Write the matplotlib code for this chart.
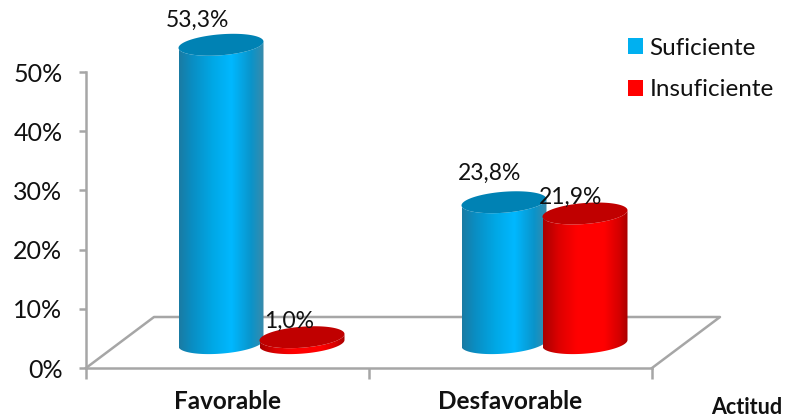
#!/usr/bin/env python3
"""Fake-3D cylinder chart: Actitud by Suficiente / Insuficiente."""
import matplotlib
matplotlib.use("Agg")
import matplotlib.pyplot as plt
import numpy as np
from matplotlib.colors import LinearSegmentedColormap
from matplotlib.patches import PathPatch, Patch, Polygon
from matplotlib.path import Path

categories = ["Favorable", "Desfavorable"]
series_names = ["Suficiente", "Insuficiente"]
suficiente = [53.3, 23.8]
insuficiente = [1.0, 21.9]
# the tall bar is cut short in the picture: it reaches about 50.4 on the axis
suficiente_drawn = [50.4, 23.8]
y_ticks = [0, 10, 20, 30, 40, 50]

PX_X = 283.0     # px per category
PX_Y = 5.92      # px per percent
X0, Y0 = 86, 368
GREY = "#A6A6A6"
FONT = "Lato"

plt.rcParams["font.family"] = FONT


def cylinder(ax, cx, h, cmap, top_color, base=4.2):
    a = 42.5 / PX_X
    b = 10.5 / PX_Y
    k = 0.075 * 42.5 / PX_Y     # ellipse tilt, right side up
    t = np.linspace(np.pi, 2 * np.pi, 80)
    xs = cx + a * np.cos(t)
    y_bot = base + b * np.sin(t) + k * np.cos(t)
    t2 = t[::-1]
    y_top = base + h + b * np.sin(t2) + k * np.cos(t2)
    verts = np.r_[np.c_[xs, y_bot], np.c_[cx + a * np.cos(t2), y_top]]
    path = Path(np.r_[verts, verts[:1]], closed=True)
    patch = PathPatch(path, fc="none", ec="none", transform=ax.transData)
    ax.add_patch(patch)
    grad = np.linspace(0, 1, 256)[None, :]
    im = ax.imshow(grad, cmap=cmap, aspect="auto", zorder=3,
                   extent=(cx - a, cx + a, base - 3, base + h + 3))
    im.set_clip_path(patch)
    # top cap, as a polygon so the tilt is kept
    t = np.linspace(0, 2 * np.pi, 120)
    cap = np.c_[cx + a * np.cos(t), base + h + b * np.sin(t) + k * np.cos(t)]
    ax.add_patch(Polygon(cap, closed=True, fc=top_color, ec="none", zorder=3.1))


blue = LinearSegmentedColormap.from_list("b", [(0, "#1A7BA3"), (0.15, "#0A8DC2"), (0.4, "#00A8E6"),
                                               (0.62, "#00B8FF"), (0.85, "#0A94CA"), (1, "#3A8AAA")])
red = LinearSegmentedColormap.from_list("r", [(0, "#A80000"), (0.18, "#DC0000"), (0.4, "#FF0000"),
                                              (0.72, "#FF0000"), (0.9, "#D40000"), (1, "#A80000")])

fig = plt.figure(figsize=(7.87, 4.2), dpi=100)
ax = fig.add_axes([0, 0, 1, 1])
ax.patch.set_alpha(0)

# floor
depth_x, depth_y = 68 / PX_X, 51 / PX_Y
ax.plot([0, depth_x, 2 + depth_x, 2], [0, depth_y, depth_y, 0], color=GREY, lw=1.8, zorder=1)

centers = np.arange(len(categories)) + 0.5 + depth_x / 2
off = 40.5 / PX_X
label_dx = [[-24, -13], [-14, -14]]
label_dy = [[24.5, 16], [29, 16]]
for i, c in enumerate(centers):
    cylinder(ax, c - off, suficiente_drawn[i], blue, "#0082B4")
    cylinder(ax, c + off, insuficiente[i], red, "#C00000")

for i, c in enumerate(centers):
    for j, (dx, h, v) in enumerate(((-off, suficiente_drawn[i], suficiente[i]),
                                    (off, insuficiente[i], insuficiente[i]))):
        ax.text(c + dx + label_dx[i][j] / PX_X, 4.2 + h + label_dy[i][j] / PX_Y,
                f"{v:.1f}%".replace(".", ","), ha="center", va="center",
                fontsize=16.5, color="#111111", zorder=5)

ax.set_xlim(-X0 / PX_X, (787 - X0) / PX_X)
ax.set_ylim((Y0 - 420) / PX_Y, Y0 / PX_Y)

for s in ("top", "right"):
    ax.spines[s].set_visible(False)
for s in ("left", "bottom"):
    ax.spines[s].set_position(("data", 0))
    ax.spines[s].set_color(GREY)
    ax.spines[s].set_linewidth(1.8)
ax.spines["left"].set_bounds(0, 50)
ax.spines["bottom"].set_bounds(0, 2)

ax.set_yticks(y_ticks)
ax.set_yticklabels([f"{v}%" for v in y_ticks], fontsize=18, color="#111111")
ax.tick_params(axis="y", length=5, width=1.8, color=GREY, pad=12)
ax.set_xticks([0, 1, 2])
ax.set_xticklabels([])
ax.tick_params(axis="x", which="major", length=8, width=1.8, color=GREY)
ax.set_xticks([0.5, 1.5], minor=True)
ax.set_xticklabels(categories, minor=True, fontsize=17.5, fontweight="bold", color="#111111")
ax.tick_params(axis="x", which="minor", length=0, pad=16)

ax.text(747 / PX_X - X0 / PX_X, (Y0 - 407) / PX_Y, "Actitud", ha="center", va="center",
        fontsize=15.5, fontweight="bold", color="#111111")

handles = [Patch(fc="#00B0F0", ec="none"), Patch(fc="#FF0000", ec="none")]
ax.legend(handles, series_names, frameon=False, fontsize=17.5, loc="upper left",
          bbox_to_anchor=(623 / 787, 1 - 33 / 420), handlelength=0.63, handleheight=0.63,
          handletextpad=0.26, labelspacing=0.84, borderpad=0.2, borderaxespad=0,
          labelcolor="#111111")

fig.savefig("out.png", dpi=100)
